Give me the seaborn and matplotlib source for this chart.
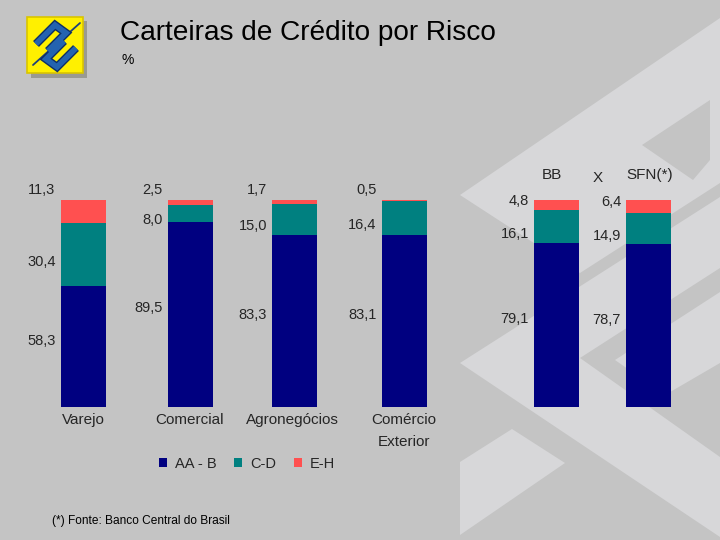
import numpy as np
import pandas as pd
import matplotlib
matplotlib.use("Agg")
import matplotlib.pyplot as plt
from matplotlib.patches import Polygon, Rectangle
import seaborn as sns

# ---------------- data ----------------
categories = ["Varejo", "Comercial", "Agronegócios", "Comércio\nExterior", "BB", "SFN(*)"]
aa_b = [58.3, 89.5, 83.3, 83.1, 79.1, 78.7]
c_d = [30.4, 8.0, 15.0, 16.4, 16.1, 14.9]
e_h = [11.3, 2.5, 1.7, 0.5, 4.8, 6.4]
series_names = ["AA - B", "C-D", "E-H"]

# ---------------- layout ----------------
W, H = 720, 540
xpos = np.array([83, 190, 294.5, 404, 556.5, 648.5])  # bar centres (pixels)
base_px, top_px = 407, 200  # pixel rows of 0 % and 100 %
px_per_unit = (base_px - top_px) / 100.0
bar_w_px = 45

BG = "#C4C4C4"
LIGHT = "#D7D7D9"
C_BLUE = "#000080"
C_TEAL = "#008080"
C_RED = "#FF5050"
FONT = "Liberation Sans"

sns.set_theme(style="white")
plt.rcParams["font.family"] = [FONT, "DejaVu Sans"]

fig = plt.figure(figsize=(W / 100, H / 100), dpi=100, facecolor=BG)

# background axes in pixel coordinates (watermark, logo, texts)
bg = fig.add_axes([0, 0, 1, 1])
bg.set_xlim(0, W)
bg.set_ylim(H, 0)
bg.axis("off")
bg.set_facecolor(BG)

def poly(ax, pts, color, z=0):
    ax.add_patch(Polygon(pts, closed=True, facecolor=color, edgecolor="none", zorder=z))

# watermark (stylised BB logo, light grey)
poly(bg, [(460, 195), (720, 18), (720, 183), (580, 273)], LIGHT)
poly(bg, [(642, 145), (710, 100), (710, 160), (693, 180)], BG, 1)
poly(bg, [(460, 363), (720, 197), (720, 537)], LIGHT)
poly(bg, [(720, 268), (580, 358), (720, 457)], BG, 1)
poly(bg, [(615, 360), (720, 292), (720, 363), (665, 395)], LIGHT, 2)
poly(bg, [(460, 462), (512, 429), (565, 463), (460, 535)], LIGHT)

# logo
bg.add_patch(Rectangle((31, 21), 56, 57, facecolor="#9A9A92", edgecolor="none", zorder=2))
bg.add_patch(Rectangle((27, 17), 56, 56, facecolor="#FFF000", edgecolor="#D9C400", lw=1.2, zorder=3))
bg.plot([33, 80], [65, 23], color="#1D3F7A", lw=1.3, zorder=4)
for path in ([(36, 44), (55, 25), (66, 33), (48, 51)],
             [(76, 48), (57, 67), (46, 59), (64, 41)]):
    xs, ys = zip(*path)
    bg.plot(xs, ys, color="#0E2F66", lw=6.0, zorder=5, solid_joinstyle="miter",
            solid_capstyle="butt")
    bg.plot(xs, ys, color="#2463B0", lw=4.0, zorder=6, solid_joinstyle="miter",
            solid_capstyle="butt")

# titles
bg.text(120, 33, "Carteiras de Crédito por Risco", fontsize=20.2, va="center", ha="left",
        color="black", zorder=10)
bg.text(121, 60, "%", fontsize=10, va="center", ha="left", color="black", zorder=10)
bg.text(52, 521, "(*) Fonte: Banco Central do Brasil", fontsize=8.6, va="center", ha="left",
        color="black", zorder=10)

# ---------------- bars (seaborn) ----------------
ax = fig.add_axes([0, 0, 1, 1])
ax.patch.set_alpha(0)
df = pd.DataFrame({"pos": xpos, "cat": categories, "aa": aa_b, "cd": c_d, "eh": e_h})
df["l3"] = df["aa"] + df["cd"] + df["eh"]
df["l2"] = df["aa"] + df["cd"]
df["l1"] = df["aa"]

width = bar_w_px / np.min(np.diff(np.sort(xpos)))
for col, colr, name in [("l3", C_RED, series_names[2]), ("l2", C_TEAL, series_names[1]),
                        ("l1", C_BLUE, series_names[0])]:
    sns.barplot(data=df, x="pos", y=col, native_scale=True, color=colr, width=width,
                saturation=1, errorbar=None, ax=ax, linewidth=0, label=name)
if ax.get_legend() is not None:
    ax.get_legend().remove()

ax.set_xlim(0, W)
ax.set_ylim(-(H - base_px) / px_per_unit, base_px / px_per_unit)
ax.axis("off")

def to_px_y(v):
    return base_px - v * px_per_unit

fs = 10.5
red_label_y = [190, 190, 190, 190, 201, 202]
for i, row in df.iterrows():
    xl = row["pos"] - bar_w_px / 2 - 5
    yb = to_px_y(row["aa"] / 2) - 6
    bg.text(xl, yb, f"{row['aa']:.1f}".replace(".", ","), ha="right", va="center",
            fontsize=fs, zorder=10)
    yt = to_px_y(row["aa"] + row["cd"] / 2) + 7
    bg.text(xl, yt, f"{row['cd']:.1f}".replace(".", ","), ha="right", va="center",
            fontsize=fs, zorder=10)
    bg.text(xl, red_label_y[i], f"{row['eh']:.1f}".replace(".", ","),
            ha="right", va="center", fontsize=fs, zorder=10)

# category labels
for i in range(4):
    lines = categories[i].split("\n")
    for j, ln in enumerate(lines):
        bg.text(xpos[i] - (2 if i == 2 else 0), 420 + 22 * j, ln, ha="center", va="center",
                fontsize=11, zorder=10)
bg.text(552, 175, categories[4], ha="center", va="center", fontsize=11, zorder=10)
bg.text(598, 178, "X", ha="center", va="center", fontsize=11, zorder=10)
bg.text(650, 175, categories[5], ha="center", va="center", fontsize=11, zorder=10)

# legend built from the seaborn bar containers
conts = list(ax.containers)[::-1]  # AA-B, C-D, E-H
leg = fig.legend([c.patches[0] for c in conts], series_names, loc="center",
                 bbox_to_anchor=(247 / W, 1 - 464 / H),
                 ncol=3, frameon=False, fontsize=10.5, handlelength=0.55, handleheight=0.55,
                 handletextpad=0.55, columnspacing=1.2)

fig.savefig("out.png", dpi=100, facecolor=BG)
